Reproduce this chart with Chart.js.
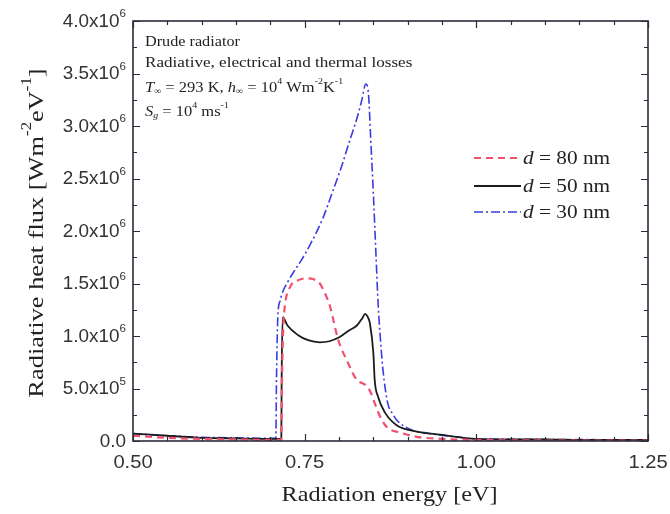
<!DOCTYPE html>
<html>
<head>
<meta charset="utf-8">
<script src="https://cdn.jsdelivr.net/npm/chart.js@4.4.1/dist/chart.umd.min.js"></script>
<style>
  body { margin: 0; background: #fff; }
  canvas { display: block; }
</style>
</head>
<body>
<canvas id="fluxChart" width="670" height="514"></canvas>
<script>
// Spectral radiative heat flux, in units of 10^6 W m^-2 eV^-1
const energy80 = [0.50, 0.55, 0.60, 0.65, 0.70, 0.716, 0.717, 0.719, 0.721, 0.729, 0.740, 0.753, 0.763, 0.772, 0.780, 0.787, 0.799, 0.812, 0.826, 0.834, 0.841, 0.847, 0.852, 0.860, 0.870, 0.889, 0.913, 0.950, 1.00, 1.10, 1.25];
const flux80   = [0.05, 0.03, 0.02, 0.015, 0.01, 0.01, 0.60, 1.10, 1.28, 1.47, 1.53, 1.55, 1.54, 1.50, 1.40, 1.28, 0.96, 0.76, 0.58, 0.55, 0.52, 0.45, 0.36, 0.23, 0.13, 0.08, 0.04, 0.02, 0.01, 0.005, 0.005];

const energy50 = [0.50, 0.55, 0.60, 0.65, 0.70, 0.716, 0.7165, 0.718, 0.725, 0.740, 0.755, 0.772, 0.786, 0.801, 0.814, 0.826, 0.834, 0.838, 0.842, 0.845, 0.850, 0.852, 0.857, 0.867, 0.884, 0.913, 0.947, 1.00, 1.05, 1.10, 1.15, 1.20, 1.25];
const flux50   = [0.07, 0.05, 0.03, 0.025, 0.02, 0.02, 0.60, 1.18, 1.10, 1.01, 0.96, 0.94, 0.95, 0.99, 1.05, 1.10, 1.17, 1.21, 1.18, 1.12, 0.84, 0.58, 0.42, 0.27, 0.15, 0.09, 0.06, 0.02, 0.015, 0.015, 0.01, 0.01, 0.01];

const energy30 = [0.50, 0.55, 0.60, 0.65, 0.70, 0.708, 0.709, 0.711, 0.714, 0.718, 0.724, 0.733, 0.745, 0.758, 0.777, 0.791, 0.804, 0.816, 0.826, 0.833, 0.839, 0.843, 0.846, 0.850, 0.854, 0.857, 0.860, 0.864, 0.871, 0.878, 0.884, 0.895, 0.908, 0.925, 0.943, 0.970, 1.00, 1.10, 1.25];
const flux30   = [0.07, 0.05, 0.035, 0.03, 0.025, 0.025, 0.60, 1.20, 1.33, 1.42, 1.50, 1.60, 1.72, 1.87, 2.13, 2.38, 2.62, 2.87, 3.07, 3.24, 3.40, 3.30, 2.90, 2.36, 1.75, 1.30, 1.00, 0.68, 0.36, 0.26, 0.20, 0.14, 0.10, 0.08, 0.06, 0.04, 0.02, 0.015, 0.01];

const seriesNames = ['80', '50', '30'];
const xTicks = [0.50, 0.75, 1.00, 1.25];
const yTicks = [0.0, 0.5, 1.0, 1.5, 2.0, 2.5, 3.0, 3.5, 4.0];
const yTickMantissa = ['0.0', '5.0x10', '1.0x10', '1.5x10', '2.0x10', '2.5x10', '3.0x10', '3.5x10', '4.0x10'];
const yTickExponent = ['', '5', '6', '6', '6', '6', '6', '6', '6'];

const SERIF = '"Liberation Serif", "Times New Roman", serif';
const SANS = '"Liberation Sans", Arial, sans-serif';

const styles = [
  { color: '#f2506e', dash: [7, 5], width: 2.2 },
  { color: '#1c1c1c', dash: [], width: 1.8 },
  { color: '#3c3ce0', dash: [9, 3, 2, 3], width: 1.6 }
];

function points(xs, ys) {
  return xs.map((x, i) => ({ x: x, y: ys[i] }));
}

// text with italic / superscript / subscript pieces, stretched by sx along the line
function richText(ctx, x, y, parts, size, align, sx) {
  sx = sx || 1;
  const fontFor = (mode) => {
    const small = mode === 'sup' || mode === 'sub' || mode === 'isub';
    const s = small ? Math.round(size * 0.62) : size;
    const it = mode === 'i' || mode === 'isub' ? 'italic ' : '';
    return it + s + 'px ' + ctx._family;
  };
  let total = 0;
  parts.forEach(p => { ctx.font = fontFor(p[1]); total += ctx.measureText(p[0]).width; });
  total *= sx;
  const start = align === 'center' ? x - total / 2 : (align === 'right' ? x - total : x);
  ctx.save();
  ctx.translate(start, y);
  ctx.scale(sx, 1);
  ctx.textAlign = 'left';
  let cx = 0;
  parts.forEach(p => {
    const mode = p[1];
    ctx.font = fontFor(mode);
    let dy = 0;
    if (mode === 'sup') dy = -size * 0.42;
    if (mode === 'sub' || mode === 'isub') dy = size * 0.22;
    ctx.fillText(p[0], cx, dy);
    cx += ctx.measureText(p[0]).width;
  });
  ctx.restore();
}

const frame = {
  id: 'frame',
  afterDatasetsDraw(chart) {
    const ctx = chart.ctx;
    const xs = chart.scales.x, ys = chart.scales.y;
    const a = chart.chartArea;
    ctx.save();

    // axis box
    ctx.strokeStyle = '#2b2b3a';
    ctx.lineWidth = 1.6;
    ctx.strokeRect(a.left, a.top, a.right - a.left, a.bottom - a.top);

    // inward ticks, major and minor, on all four sides
    ctx.lineWidth = 1.2;
    ctx.beginPath();
    for (let v = 0.50; v <= 1.2501; v += 0.05) {
      const px = Math.round(xs.getPixelForValue(v)) + 0.5;
      const major = Math.abs((v - 0.5) / 0.25 - Math.round((v - 0.5) / 0.25)) < 1e-6;
      const len = major ? 7 : 4;
      ctx.moveTo(px, a.bottom); ctx.lineTo(px, a.bottom - len);
      ctx.moveTo(px, a.top); ctx.lineTo(px, a.top + len);
    }
    for (let v = 0; v <= 4.0001; v += 0.25) {
      const py = Math.round(ys.getPixelForValue(v)) + 0.5;
      const major = Math.abs(v * 2 - Math.round(v * 2)) < 1e-6;
      const len = major ? 7 : 4;
      ctx.moveTo(a.left, py); ctx.lineTo(a.left + len, py);
      ctx.moveTo(a.right, py); ctx.lineTo(a.right - len, py);
    }
    ctx.stroke();

    // tick labels
    ctx.fillStyle = '#333';
    ctx.textBaseline = 'middle';
    ctx._family = SANS;
    xTicks.forEach(v => richText(ctx, xs.getPixelForValue(v), a.bottom + 22, [[v.toFixed(2), '']], 18, 'center', 1.12));
    yTicks.forEach((v, i) => {
      richText(ctx, a.left - 7, ys.getPixelForValue(v) + 1,
        [[yTickMantissa[i], ''], [yTickExponent[i], 'sup']], 18, 'right', 1.05);
    });

    // axis titles
    ctx.fillStyle = '#222';
    ctx._family = SERIF;
    richText(ctx, (a.left + a.right) / 2 - 1, a.bottom + 54, [['Radiation energy [eV]', '']], 22, 'center', 1.1);
    ctx.save();
    ctx.translate(37, (a.top + a.bottom) / 2 + 2);
    ctx.rotate(-Math.PI / 2);
    richText(ctx, 0, 0, [['Radiative heat flux [Wm', ''], ['-2', 'sup'], ['eV', ''], ['-1', 'sup'], [']', '']], 22, 'center', 1.2);
    ctx.restore();

    // case description
    const tx = a.left + 12;
    richText(ctx, tx, 42, [['Drude radiator', '']], 15, 'left', 1.08);
    richText(ctx, tx, 63, [['Radiative, electrical and thermal losses', '']], 15, 'left', 1.14);
    richText(ctx, tx, 88, [['T', 'i'], ['∞', 'sub'], [' = 293 K, ', ''], ['h', 'i'], ['∞', 'sub'],
      [' = 10', ''], ['4', 'sup'], [' Wm', ''], ['-2', 'sup'], ['K', ''], ['-1', 'sup']], 15, 'left', 1.1);
    richText(ctx, tx, 112, [['S', 'i'], ['g', 'isub'], [' = 10', ''], ['4', 'sup'], [' ms', ''], ['-1', 'sup']], 15, 'left', 1.1);

    // legend
    const rows = [158, 186, 212];
    seriesNames.forEach((n, i) => {
      const st = styles[i];
      ctx.strokeStyle = st.color;
      ctx.lineWidth = st.width;
      ctx.setLineDash(st.dash);
      ctx.beginPath();
      ctx.moveTo(474, rows[i]); ctx.lineTo(521, rows[i]);
      ctx.stroke();
      ctx.setLineDash([]);
      ctx.fillStyle = '#222';
      richText(ctx, 523, rows[i] + 1, [['d', 'i'], [' = ' + n + ' nm', '']], 19, 'left', 1.12);
    });
    ctx.restore();
  }
};

new Chart(document.getElementById('fluxChart'), {
  type: 'line',
  data: {
    datasets: [
      { label: 'd = 80 nm', data: points(energy80, flux80) },
      { label: 'd = 50 nm', data: points(energy50, flux50) },
      { label: 'd = 30 nm', data: points(energy30, flux30) }
    ].map((d, i) => Object.assign(d, {
      borderColor: styles[i].color,
      borderDash: styles[i].dash,
      borderWidth: styles[i].width,
      pointRadius: 0,
      fill: false,
      cubicInterpolationMode: 'monotone'
    }))
  },
  options: {
    responsive: false,
    animation: false,
    layout: { padding: { left: 133, right: 22, top: 21, bottom: 73 } },
    plugins: { legend: { display: false }, tooltip: { enabled: false } },
    scales: {
      x: { type: 'linear', min: 0.5, max: 1.25, display: false },
      y: { type: 'linear', min: 0, max: 4, display: false }
    }
  },
  plugins: [frame]
});
</script>
</body>
</html>
